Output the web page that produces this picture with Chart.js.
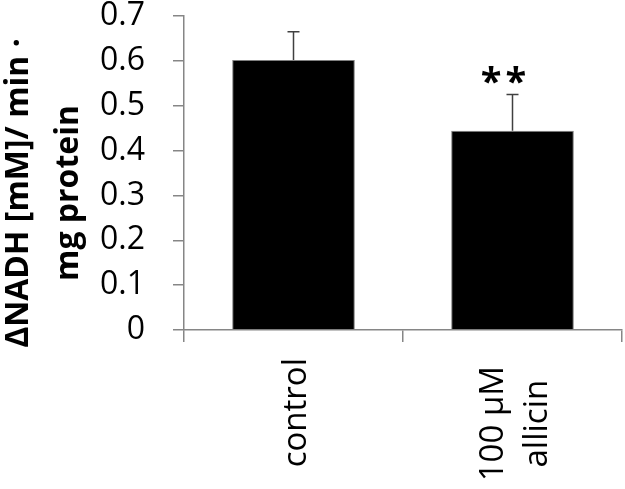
<!DOCTYPE html>
<html>
<head>
<meta charset="utf-8">
<script src="https://cdn.jsdelivr.net/npm/chart.js@4"></script>
<style>
  html, body { margin: 0; padding: 0; background: #fff; }
  #wrap { width: 625px; height: 489px; }
</style>
</head>
<body>
<div id="wrap"><canvas id="chart" width="625" height="489"></canvas></div>
<script>
// Data
const categories = ['control', ['100 µM', 'allicin']];
const values = [0.602, 0.444];
const errors = [0.063, 0.081];
const marks = ['', '**'];
const yTitle = ['\u0394NADH [mM]/ min \u00b7', 'mg protein'];

const FONT = "'Open Sans', sans-serif";
const AXIS = '#868686';

// error bars (upper only), significance stars, category labels and the two-line axis title
const extras = {
  id: 'extras',
  afterDatasetsDraw(chart) {
    const {ctx, scales: {y}} = chart;
    const meta = chart.getDatasetMeta(0);
    ctx.save();
    ctx.strokeStyle = '#404040';
    ctx.lineWidth = 1.5;
    meta.data.forEach((bar, i) => {
      const top = y.getPixelForValue(values[i] + errors[i]);
      ctx.beginPath();
      ctx.moveTo(bar.x, bar.y);
      ctx.lineTo(bar.x, top);
      ctx.moveTo(bar.x - 6, top);
      ctx.lineTo(bar.x + 6, top);
      ctx.stroke();

      if (marks[i]) {
        ctx.fillStyle = '#000';
        ctx.font = 'bold 38px ' + FONT;
        ctx.textAlign = 'center';
        ctx.textBaseline = 'alphabetic';
        ctx.letterSpacing = '4px';
        ctx.fillText(marks[i], bar.x - 7, top);
        ctx.letterSpacing = '0px';
      }
    });
    ctx.restore();
  },
  afterDraw(chart) {
    const {ctx, scales: {x}} = chart;
    ctx.save();
    ctx.fillStyle = '#000';

    // rotated category labels, lines centred on each other
    ctx.font = '33px ' + FONT;
    ctx.textAlign = 'center';
    ctx.textBaseline = 'middle';
    categories.forEach((label, i) => {
      const lines = Array.isArray(label) ? label : [label];
      const widest = Math.max(...lines.map(l => ctx.measureText(l).width));
      const px = x.getPixelForValue(i);
      const cy = x.top + 28 + (lines.length - 1) * 8 + widest / 2;
      lines.forEach((line, j) => {
        ctx.save();
        ctx.translate(px + 3 + (j - (lines.length - 1) / 2) * 44, cy);
        ctx.rotate(-Math.PI / 2);
        ctx.fillText(line, 0, 0);
        ctx.restore();
      });
    });

    // y axis title
    ctx.font = 'bold 32px ' + FONT;
    ctx.textBaseline = 'alphabetic';
    const baselines = [28, 78];
    yTitle.forEach((line, i) => {
      ctx.save();
      ctx.translate(baselines[i], 193);
      ctx.rotate(-Math.PI / 2);
      ctx.fillText(line, 0, 0);
      ctx.restore();
    });
    ctx.restore();
  }
};

new Chart(document.getElementById('chart'), {
  type: 'bar',
  data: {
    labels: categories,
    datasets: [{
      data: values,
      backgroundColor: '#000',
      borderColor: '#7f7f7f',
      borderWidth: 1,
      categoryPercentage: 0.56,
      barPercentage: 1
    }]
  },
  options: {
    responsive: false,
    animation: false,
    layout: {padding: {left: 0, right: 3, top: 16, bottom: 0}},
    plugins: {
      legend: {display: false},
      tooltip: {enabled: false}
    },
    scales: {
      x: {
        afterFit: s => { s.height = 159; },
        grid: {
          offset: true,
          drawOnChartArea: false,
          drawTicks: true,
          tickLength: 12,
          color: AXIS,
          lineWidth: 1.5
        },
        border: {color: AXIS, width: 1.5},
        ticks: {display: false}
      },
      y: {
        min: 0,
        max: 0.7,
        afterFit: s => {
          s.width = 184;
          s.paddingTop = 16;
          s.paddingBottom = 16;
        },
        grid: {
          drawOnChartArea: false,
          drawTicks: true,
          tickLength: 11,
          color: AXIS,
          lineWidth: 1.5
        },
        border: {color: AXIS, width: 1.5},
        ticks: {
          stepSize: 0.1,
          padding: 28,
          color: '#000',
          font: {family: FONT, size: 32, lineHeight: 1},
          callback: v => String(+v.toFixed(1))
        }
      }
    }
  },
  plugins: [extras]
});
</script>
</body>
</html>
